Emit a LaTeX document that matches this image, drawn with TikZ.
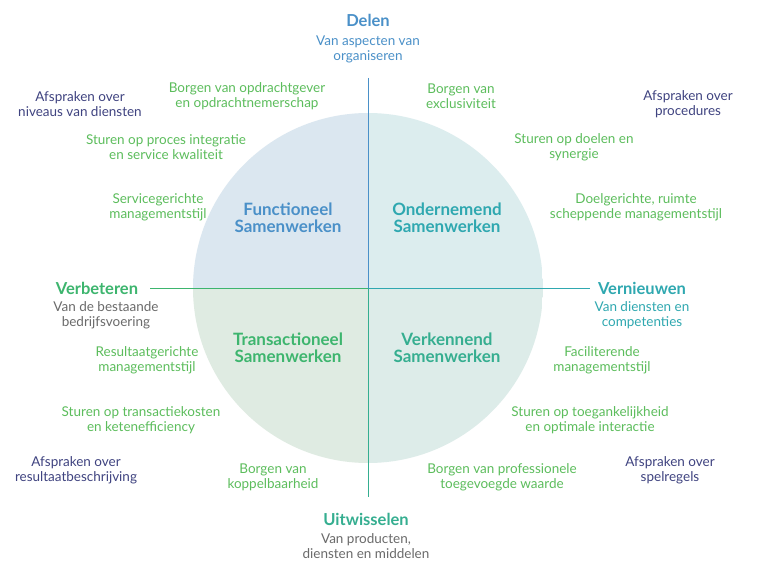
\documentclass[tikz,border=0pt]{standalone}
\usepackage{fontspec}
\setmainfont{Lato}
\definecolor{cblue}{HTML}{4A90C8}
\definecolor{cteal}{HTML}{2FA8B0}
\definecolor{cgreen}{HTML}{3DB56E}
\definecolor{cvteal}{HTML}{35AE90}
\definecolor{lgreen}{HTML}{5CBD5C}
\definecolor{cgray}{HTML}{6A6A6A}
\definecolor{cdark}{HTML}{3F4380}
\definecolor{fblue}{HTML}{DBE7F0}
\definecolor{fteal}{HTML}{DCEDEE}
\definecolor{fgreen}{HTML}{DFEBE2}
\begin{document}
\begin{tikzpicture}[x=1pt,y=-1pt,
  t/.style={align=center,font=\fontsize{13.5}{15}\selectfont,inner sep=0pt},
  hd/.style={align=center,font=\fontsize{16.5}{18}\selectfont\bfseries,inner sep=0pt},
  q/.style={align=center,font=\fontsize{17}{17}\selectfont\bfseries,inner sep=0pt}]
\useasboundingbox (0,0) rectangle (768,575);
\fill[white] (0,0) rectangle (768,575);
\begin{scope}
\clip (368,288) circle (175);
\fill[fblue] (193,113) rectangle (368,288);
\fill[fteal] (368,113) rectangle (543,288);
\fill[fgreen] (193,288) rectangle (368,463);
\fill[fteal!60!fgreen] (368,288) rectangle (543,463);
\end{scope}
\coordinate (ct) at (368,78); \coordinate (cb) at (368,497);
\coordinate (cl) at (150,288); \coordinate (cr) at (590,288);
\coordinate (c) at (368,288);
\draw[cblue,line width=0.9pt] (ct) -- (c);
\draw[cvteal,line width=0.9pt] (c) -- (cb);
\draw[cgreen,line width=0.9pt] (cl) -- (c);
\draw[cteal,line width=0.9pt] (c) -- (cr);
\node[q,text=cblue] (f) at (288,218) {Functioneel\\Samenwerken};
\node[q,text=cteal] (o) at (447,218) {Ondernemend\\Samenwerken};
\node[q,text=cgreen] (tr) at (288,348) {Transactioneel\\Samenwerken};
\node[q,text=cvteal] (ve) at (447,348) {Verkennend\\Samenwerken};
\node[hd,text=cblue] (d) at (368,20) {Delen};
\node[t,text=cblue] (d2) at (368,49) {Van aspecten van\\organiseren};
\node[hd,text=cgreen] (vb) at (97,288) {Verbeteren};
\node[t,text=cgray] (vb2) at (106,315) {Van de bestaande\\bedrijfsvoering};
\node[hd,text=cteal] (vn) at (642,288) {Vernieuwen};
\node[t,text=cteal] (vn2) at (642,315) {Van diensten en\\competenties};
\node[hd,text=cvteal] (u) at (366,519) {Uitwisselen};
\node[t,text=cgray] (u2) at (366,546) {Van producten,\\diensten en middelen};
\node[t,text=cdark] (a1) at (80,104) {Afspraken over\\niveaus van diensten};
\node[t,text=cdark] (a2) at (688,104) {Afspraken over\\procedures};
\node[t,text=cdark] (a3) at (76,470) {Afspraken over\\resultaatbeschrijving};
\node[t,text=cdark] (a4) at (670,470) {Afspraken over\\spelregels};
\node[t,text=lgreen] (b1) at (247,96) {Borgen van opdrachtgever\\en opdrachtnemerschap};
\node[t,text=lgreen] (b2) at (461,96) {Borgen van\\exclusiviteit};
\node[t,text=lgreen] (s1) at (166,147) {Sturen op proces integratie\\en service kwaliteit};
\node[t,text=lgreen] (s2) at (574,147) {Sturen op doelen en\\synergie};
\node[t,text=lgreen] (m1) at (158,207) {Servicegerichte\\managementstijl};
\node[t,text=lgreen] (m2) at (636,207) {Doelgerichte, ruimte\\scheppende managementstijl};
\node[t,text=lgreen] (m3) at (147,360) {Resultaatgerichte\\managementstijl};
\node[t,text=lgreen] (m4) at (602,360) {Faciliterende\\managementstijl};
\node[t,text=lgreen] (s3) at (141,420) {Sturen op transactiekosten\\en ketenefficiency};
\node[t,text=lgreen] (s4) at (590,420) {Sturen op toegankelijkheid\\en optimale interactie};
\node[t,text=lgreen] (b3) at (273,477) {Borgen van\\koppelbaarheid};
\node[t,text=lgreen] (b4) at (502,477) {Borgen van professionele\\toegevoegde waarde};
\end{tikzpicture}
\end{document}
